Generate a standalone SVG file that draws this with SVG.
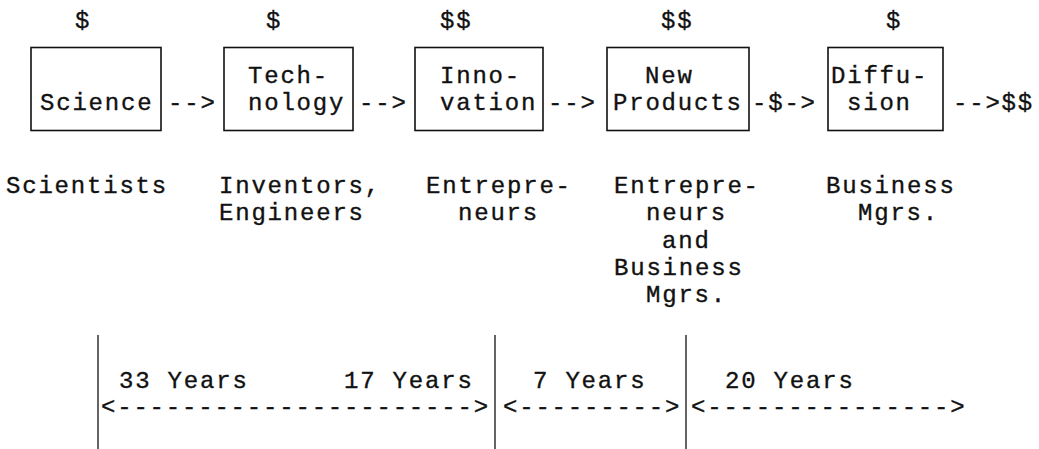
<svg xmlns="http://www.w3.org/2000/svg" width="1039" height="449" viewBox="0 0 1039 449">
<style>
text{font-family:"Liberation Mono","DejaVu Sans Mono",monospace;font-size:24px;letter-spacing:1.8px;fill:#111;stroke:#111;stroke-width:0.35}
.box{fill:none;stroke:#111;stroke-width:1.6}
.vl{stroke:#111;stroke-width:1.3}
</style>
<rect width="1039" height="449" fill="#fff"/>
<g id="money">
<text x="75" y="28">$</text>
<text x="266" y="28">$</text>
<text x="440" y="28">$$</text>
<text x="661" y="28">$$</text>
<text x="886" y="28">$</text>
</g>
<g id="science">
<rect class="box" x="31" y="47.5" width="130" height="83"/>
<text x="40" y="110">Science</text>
</g>
<g id="technology">
<rect class="box" x="224" y="47.5" width="129" height="83"/>
<text x="248" y="83">Tech-</text>
<text x="248" y="110">nology</text>
</g>
<g id="innovation">
<rect class="box" x="415" y="47.5" width="128" height="83"/>
<text x="440" y="83">Inno-</text>
<text x="440" y="110">vation</text>
</g>
<g id="newproducts">
<rect class="box" x="607" y="47.5" width="142" height="83"/>
<text x="645" y="83">New</text>
<text x="613" y="110">Products</text>
</g>
<g id="diffusion">
<rect class="box" x="828" y="47.5" width="115" height="83"/>
<text x="831" y="83">Diffu-</text>
<text x="847" y="110">sion</text>
</g>
<g id="connectors">
<text x="168" y="110">--&gt;</text>
<text x="359" y="110">--&gt;</text>
<text x="548" y="110">--&gt;</text>
<text x="752" y="110">-$-&gt;</text>
<text x="953" y="110">--&gt;$$</text>
</g>
<g id="actors">
<text x="6" y="193">Scientists</text>
<text x="219" y="193">Inventors,</text>
<text x="219" y="220">Engineers</text>
<text x="426" y="193">Entrepre-</text>
<text x="458" y="220">neurs</text>
<text x="614" y="193">Entrepre-</text>
<text x="646" y="220">neurs</text>
<text x="662" y="248">and</text>
<text x="614" y="275">Business</text>
<text x="646" y="302">Mgrs.</text>
<text x="826" y="193">Business</text>
<text x="858" y="220">Mgrs.</text>
</g>
<g id="timeline">
<line class="vl" x1="98" y1="335" x2="98" y2="449"/>
<line class="vl" x1="495" y1="335" x2="495" y2="449"/>
<line class="vl" x1="686" y1="335" x2="686" y2="449"/>
<text x="119" y="388">33 Years</text>
<text x="344" y="388">17 Years</text>
<text x="533" y="388">7 Years</text>
<text x="725" y="388">20 Years</text>
<text x="101" y="414">&lt;----------------------&gt;</text>
<text x="503" y="414">&lt;---------&gt;</text>
<text x="691" y="414">&lt;---------------&gt;</text>
</g>
</svg>
